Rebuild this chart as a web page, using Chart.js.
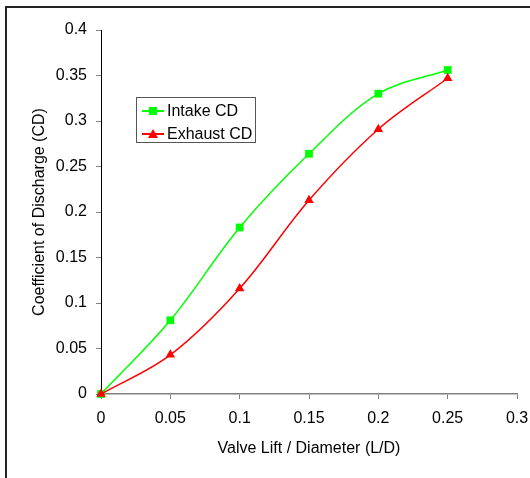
<!DOCTYPE html>
<html>
<head>
<meta charset="utf-8">
<script src="https://cdn.jsdelivr.net/npm/chart.js@4"></script>
<style>
  html, body { margin: 0; padding: 0; background: #fff; }
  #wrap { position: relative; width: 530px; height: 478px; overflow: hidden; font-family: "Liberation Sans", Arial, sans-serif; }
  #frame { position: absolute; left: 5px; top: 6px; width: 700px; height: 700px; border-left: 2px solid #222; border-top: 2px solid #222; }
  #c { position: absolute; left: 0; top: 0; }
  #legend { position: absolute; left: 136px; top: 97px; width: 118px; height: 44px; border: 1px solid #555; background: #fff; font-size: 16px; color: #000; }
  .row { position: absolute; left: 0; height: 20px; line-height: 20px; white-space: nowrap; }
  .row .line { position: absolute; left: 5px; top: 9px; width: 22px; height: 2px; }
  .row .mark { position: absolute; }
  .row .txt { position: absolute; left: 30px; top: 0; }
  .sq { left: 12px; top: 6px; width: 8px; height: 8px; }
  .tri { left: 11px; top: 5px; width: 0; height: 0; border-left: 5px solid transparent; border-right: 5px solid transparent; border-bottom: 9px solid #ff0000; }
</style>
</head>
<body>
<div id="wrap">
  <div id="frame"></div>
  <canvas id="c" width="530" height="478"></canvas>
  <div id="legend"></div>
</div>
<script>
// L/D values on the x axis
const liftRatio = [0, 0.05, 0.1, 0.15, 0.2, 0.25];
// Coefficient of discharge
const intakeCD = [0, 0.081, 0.183, 0.264, 0.330, 0.356];
const exhaustCD = [0, 0.043, 0.116, 0.213, 0.291, 0.347];

const seriesNames = ['Intake CD', 'Exhaust CD'];

const xTickValues = [0, 0.05, 0.1, 0.15, 0.2, 0.25, 0.3];
const xTickLabels = ['0', '0.05', '0.1', '0.15', '0.2', '0.25', '0.3'];
const yTickValues = [0, 0.05, 0.1, 0.15, 0.2, 0.25, 0.3, 0.35, 0.4];
const yTickLabels = ['0', '0.05', '0.1', '0.15', '0.2', '0.25', '0.3', '0.35', '0.4'];

const toPoints = (ys) => liftRatio.map((x, i) => ({ x: x, y: ys[i] }));
const fontFamily = '"Liberation Sans", Arial, sans-serif';

const ctx = document.getElementById('c').getContext('2d');
const chart = new Chart(ctx, {
    type: 'line',
    data: {
        datasets: [{
            label: seriesNames[0],
            data: toPoints(intakeCD),
            borderColor: '#00ff00',
            backgroundColor: '#00ff00',
            borderWidth: 1.5,
            pointStyle: 'rect',
            pointRadius: 5.5,
            pointBorderWidth: 0,
            tension: 0.35,
            clip: false,
            order: 1
        }, {
            label: seriesNames[1],
            data: toPoints(exhaustCD),
            borderColor: '#ff0000',
            backgroundColor: '#ff0000',
            borderWidth: 1.5,
            pointStyle: 'triangle',
            pointRadius: 5.5,
            pointBorderWidth: 0,
            tension: 0.35,
            clip: false,
            order: 0
        }]
    },
    options: {
        responsive: false,
        animation: false,
        layout: { padding: { top: 30, left: 0, right: 13, bottom: 0 } },
        plugins: {
            legend: { display: false },
            tooltip: { enabled: false }
        },
        scales: {
            x: {
                type: 'linear',
                min: 0,
                max: 0.3,
                // fixed height; the last label may run past the edge like the original
                afterFit: (s) => { s.height = 84; s.paddingLeft = 0; s.paddingRight = 0; },
                afterBuildTicks: (s) => { s.ticks = xTickValues.map(v => ({ value: v })); },
                ticks: {
                    autoSkip: false,
                    maxRotation: 0,
                    padding: 10,
                    color: '#000',
                    font: { family: fontFamily, size: 16 },
                    callback: (v, i) => xTickLabels[i]
                },
                grid: { drawOnChartArea: false, tickLength: 5, color: '#808080' },
                border: { color: '#808080', width: 1.5 },
                title: {
                    display: true,
                    text: 'Valve Lift / Diameter (L/D)',
                    color: '#000',
                    font: { family: fontFamily, size: 16 },
                    padding: { top: 0, bottom: 20 }
                }
            },
            y: {
                min: 0,
                max: 0.4,
                afterFit: (s) => { s.width = 101; },
                afterBuildTicks: (s) => { s.ticks = yTickValues.map(v => ({ value: v })); },
                ticks: {
                    padding: 9,
                    color: '#000',
                    font: { family: fontFamily, size: 16 },
                    callback: (v, i) => yTickLabels[i]
                },
                grid: { drawOnChartArea: false, tickLength: 5, color: '#808080' },
                border: { color: '#000', width: 1 },
                title: {
                    display: true,
                    text: 'Coefficient of Discharge (CD)',
                    color: '#000',
                    font: { family: fontFamily, size: 16 },
                    padding: { top: 30, bottom: 0 }
                }
            }
        }
    }
});

// Excel-style legend box inside the plot
const legend = document.getElementById('legend');
chart.data.datasets.forEach((ds, i) => {
    const row = document.createElement('div');
    row.className = 'row';
    row.style.top = (3 + i * 23) + 'px';
    const line = document.createElement('span');
    line.className = 'line';
    line.style.background = ds.borderColor;
    const mark = document.createElement('span');
    mark.className = 'mark ' + (ds.pointStyle === 'rect' ? 'sq' : 'tri');
    if (ds.pointStyle === 'rect') mark.style.background = ds.backgroundColor;
    const txt = document.createElement('span');
    txt.className = 'txt';
    txt.textContent = ds.label;
    row.appendChild(line);
    row.appendChild(mark);
    row.appendChild(txt);
    legend.appendChild(row);
});
</script>
</body>
</html>
